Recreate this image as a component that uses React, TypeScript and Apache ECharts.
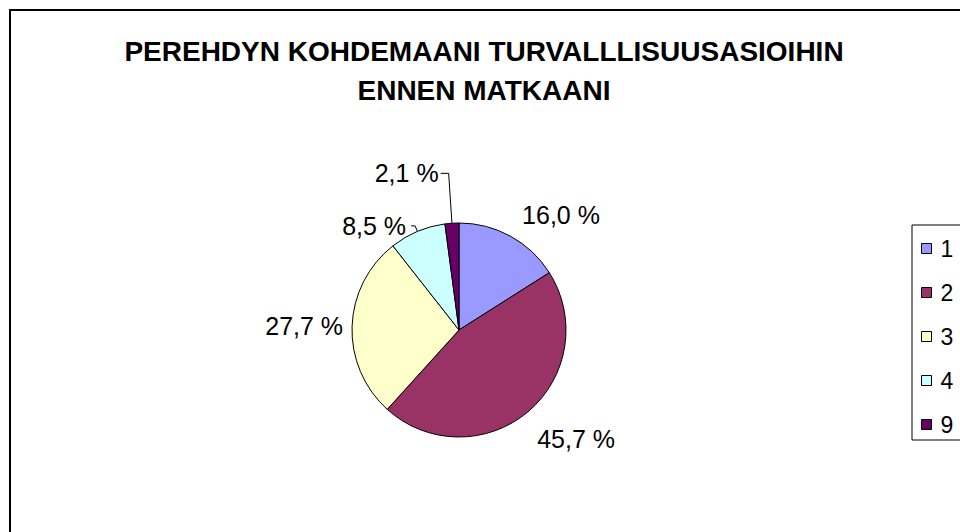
import React, { useEffect, useRef } from "react";
import * as echarts from "echarts";

const titleLines = ["PEREHDYN KOHDEMAANI TURVALLLISUUSASIOIHIN", "ENNEN MATKAANI"];
const categories = ["1", "2", "3", "4", "9"];
const values = [16.0, 45.7, 27.7, 8.5, 2.1];
const colors = ["#9999FF", "#993366", "#FFFFCC", "#CCFFFF", "#660066"];

// label line styling per slice (Excel-like placement)
const lineShown = [false, false, false, true, true];
const lineLen = [24, 36, 4, 6, 50];
const lineLen2 = [0, -14, 0, 4, 8];
const labelDist = [0, 0, 5, 5, 2];

const FONT = "'Liberation Sans', Arial, sans-serif";

export default function App() {
  const ref = useRef<HTMLDivElement>(null);
  useEffect(() => {
    if (!ref.current) return;
    const chart = echarts.init(ref.current, null, { renderer: "svg" });
    const data = categories.map((name, i) => ({
      name,
      value: values[i],
      itemStyle: { color: colors[i] },
      label: { distanceToLabelLine: labelDist[i] },
      labelLine: {
        show: lineShown[i],
        length: lineLen[i],
        length2: lineLen2[i],
      },
    }));
    chart.setOption({
      animation: false,
      backgroundColor: "#ffffff",
      title: {
        text: titleLines.join("\n"),
        left: 479,
        textAlign: "center",
        top: 27,
        textStyle: {
          fontFamily: FONT,
          fontWeight: "bold",
          fontSize: 28,
          lineHeight: 39,
          color: "#000",
        },
      },
      legend: {
        orient: "vertical",
        left: 912,
        top: 225,
        padding: [12, 60, 4, 9],
        borderColor: "#000",
        borderWidth: 1,
        itemWidth: 10,
        itemHeight: 10,
        itemGap: 21,
        icon: "rect",
        data: categories,
        itemStyle: { borderColor: "#000", borderWidth: 1 },
        textStyle: {
          fontFamily: FONT,
          fontSize: 23,
          lineHeight: 22,
          padding: [0, 0, 0, 4],
          color: "#000",
        },
      },
      graphic: [
        {
          type: "rect",
          shape: { x: 10, y: 10, width: 1200, height: 900 },
          style: { fill: "none", stroke: "#000", lineWidth: 2 },
          silent: true,
        },
      ],
      series: [
        {
          type: "pie",
          center: [459, 330],
          radius: 107,
          startAngle: 90,
          clockwise: true,
          avoidLabelOverlap: false,
          itemStyle: { borderColor: "#000", borderWidth: 1 },
          emphasis: { disabled: true },
          label: {
            show: true,
            position: "outside",
            fontFamily: FONT,
            fontSize: 25,
            color: "#000",
            formatter: (p: any) => p.value.toFixed(1).replace(".", ",") + " %",
          },
          labelLine: {
            lineStyle: { color: "#000", width: 1 },
            smooth: false,
          },
          data,
        },
      ],
    });
    return () => chart.dispose();
  }, []);
  return (
    <div
      ref={ref}
      style={{ position: "fixed", left: 0, top: 0, width: 960, height: 532, background: "#fff" }}
    />
  );
}
